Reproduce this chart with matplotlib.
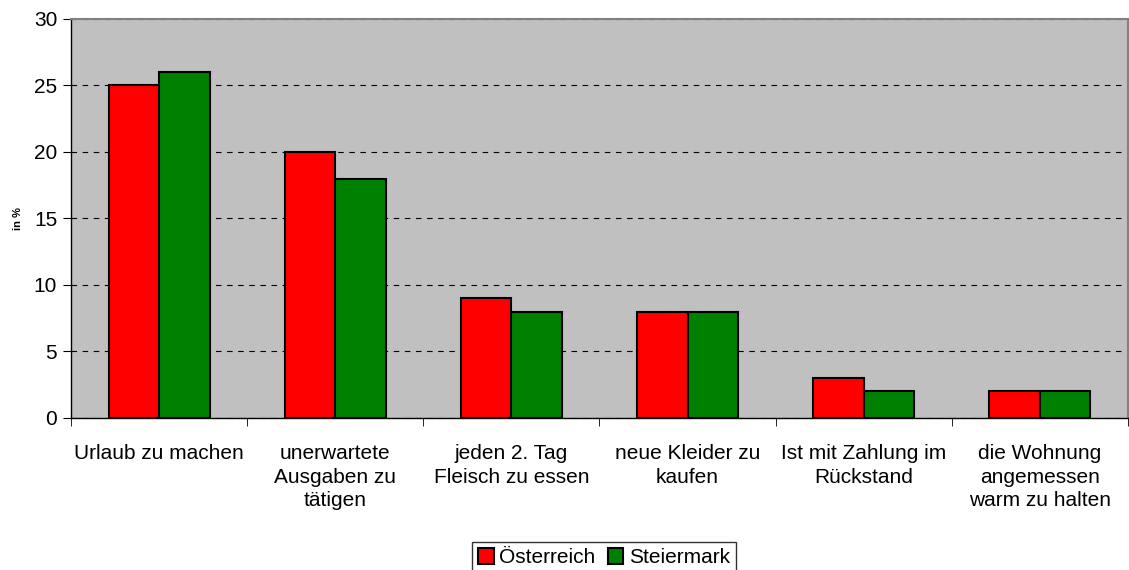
import matplotlib
matplotlib.use("Agg")
import matplotlib.pyplot as plt
import numpy as np

plt.rcParams['font.family'] = ['Liberation Sans', 'DejaVu Sans']

categories = ["Urlaub zu machen", "unerwartete\nAusgaben zu\ntätigen", "jeden 2. Tag\nFleisch zu essen",
              "neue Kleider zu\nkaufen", "Ist mit Zahlung im\nRückstand", "die Wohnung\nangemessen\nwarm zu halten"]
oesterreich = [25, 20, 9, 8, 3, 2]
steiermark = [26, 18, 8, 8, 2, 2]
series_names = ["Österreich", "Steiermark"]
yticks = [0, 5, 10, 15, 20, 25, 30]

fig = plt.figure(figsize=(11.29, 5.70), dpi=100)
ax = fig.add_axes([0.0629, 0.2667, 0.9361, 0.7])
ax.set_facecolor('#c0c0c0')

x = np.arange(len(categories))
w = 0.287
b1 = ax.bar(x - w/2, oesterreich, w, color='#ff0000', edgecolor='black', linewidth=1.5, label=series_names[0], zorder=3)
b2 = ax.bar(x + w/2, steiermark, w, color='#008000', edgecolor='black', linewidth=1.5, label=series_names[1], zorder=3)

ax.set_xlim(-0.5, len(categories) - 0.5)
ax.set_ylim(0, 30)
ax.set_yticks(yticks)
ax.set_yticklabels([str(t) for t in yticks], fontsize=15)
ax.yaxis.grid(True, linestyle=(0, (5, 5)), color='black', linewidth=0.8, zorder=1)
ax.set_axisbelow(True)

ax.set_xticks(x)
ax.set_xticklabels(categories, fontsize=15, linespacing=1.3)
ax.tick_params(axis='x', length=0, pad=19)
ax.set_xticks(np.arange(len(categories) + 1) - 0.5, minor=True)
ax.tick_params(axis='x', which='minor', length=6, direction='out', color='black')
ax.tick_params(axis='y', length=6, direction='out', color='black', pad=4)

for s in ['top', 'right']:
    ax.spines[s].set_color('#808080')
    ax.spines[s].set_linewidth(1.5)
for s in ['left', 'bottom']:
    ax.spines[s].set_color('black')
    ax.spines[s].set_linewidth(1.0)

ax.set_ylabel("in %", fontsize=8, fontweight='bold', labelpad=8)

leg = fig.legend(handles=[b1, b2], loc='lower center', bbox_to_anchor=(0.535, -0.006), ncol=2,
                 fontsize=15, frameon=True, fancybox=False, edgecolor='black',
                 handlelength=0.75, handleheight=0.75, handletextpad=0.25, columnspacing=0.6,
                 borderpad=0.3, borderaxespad=0)
leg.get_frame().set_linewidth(1.0)

fig.savefig("out.png", dpi=100)
